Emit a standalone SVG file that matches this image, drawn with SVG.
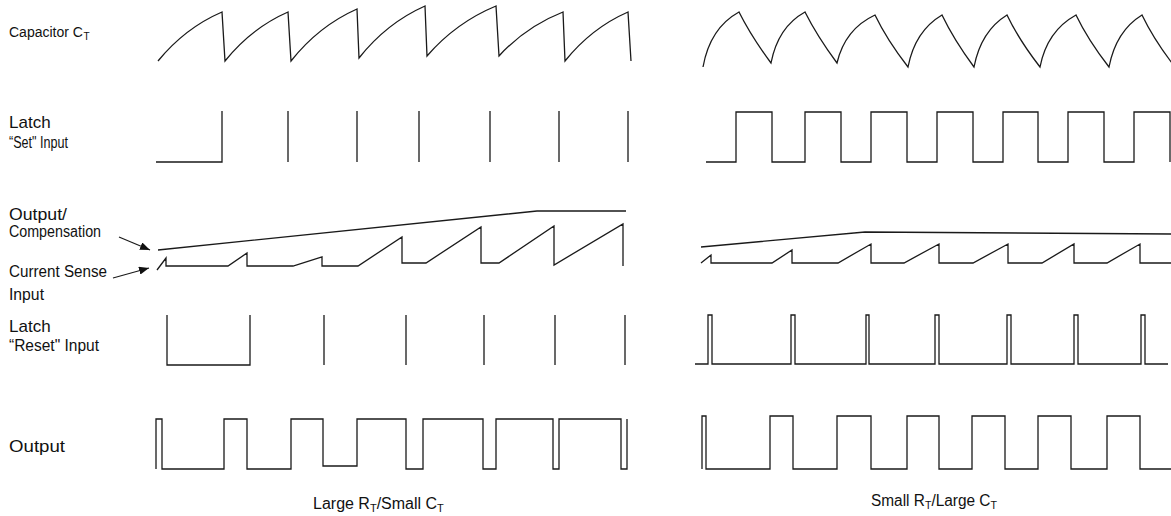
<svg xmlns="http://www.w3.org/2000/svg" width="1171" height="516" viewBox="0 0 1171 516">
<style>
.w{fill:none;stroke:#1a1a1a;stroke-width:1.3;stroke-linejoin:miter}
.a{fill:none;stroke:#1a1a1a;stroke-width:1.2}
text{font-family:"Liberation Sans",Arial,sans-serif;fill:#111}
.l1{font-size:17px}
.l2{font-size:16px}
.sub{font-size:11px}
.cap{font-size:16px}
</style>
<defs>
<marker id="ah" viewBox="0 0 10 8" refX="10" refY="4" markerWidth="10" markerHeight="8" markerUnits="userSpaceOnUse" orient="auto">
<path d="M0,0 L10,4 L0,8 Z" fill="#111"/>
</marker>
</defs>
<rect width="1171" height="516" fill="#fff"/>

<g id="labels">
<text x="9" y="37" font-size="14">Capacitor C<tspan font-size="10" dx="0.5" dy="3">T</tspan></text>
<text class="l1" x="9" y="128">Latch</text>
<text class="l2" x="9" y="148" textLength="59" lengthAdjust="spacingAndGlyphs">“Set" Input</text>
<text class="l1" x="9" y="220" textLength="58" lengthAdjust="spacingAndGlyphs">Output/</text>
<text class="l2" x="9" y="237" textLength="92" lengthAdjust="spacingAndGlyphs">Compensation</text>
<text class="l2" x="9" y="277" textLength="98" lengthAdjust="spacingAndGlyphs">Current Sense</text>
<text class="l1" x="9" y="300" textLength="35" lengthAdjust="spacingAndGlyphs">Input</text>
<text class="l1" x="9" y="332">Latch</text>
<text class="l2" x="9" y="351" textLength="90" lengthAdjust="spacingAndGlyphs">“Reset" Input</text>
<text class="l1" x="9" y="452" textLength="56" lengthAdjust="spacingAndGlyphs">Output</text>
<text class="cap" x="313" y="509">Large R<tspan class="sub" dy="3">T</tspan><tspan dy="-3">/Small C</tspan><tspan class="sub" dy="3">T</tspan></text>
<text class="cap" x="871" y="506" textLength="126" lengthAdjust="spacingAndGlyphs">Small R<tspan class="sub" dy="3">T</tspan><tspan dy="-3">/Large C</tspan><tspan class="sub" dy="3">T</tspan></text>
</g>

<g id="capacitor-left">
<path class="w" d="M158,61 Q185,28 222,12 L225,61 Q251.5,28 288,12 L291,61 Q318.7,26 357,9 L359,58 Q386.7,23 425,6 L427,56 Q456,22.5 496,6 L499,56 Q526,26.5 563,12 L565,61 Q591.5,28 628,12 L631,61"/>
</g>
<g id="capacitor-right">
<path class="w" d="M703,67 Q710,28 739,12 Q751,36 771,63 Q778,27 805,12 Q817,36 837,63 Q845,29 875,15 Q887,40 908,67 Q915,31 942,15 Q954,40 974,67 Q981,31 1007,15 Q1019,40 1040,67 Q1047,31 1076,15 Q1088,40 1109,67 Q1116,31 1142,15 Q1154,40 1175,67"/>
</g>

<g id="set-left">
<path class="w" d="M156,162 H222 V111 M288,111 V162 M357,111 V162 M419,111 V162 M490,111 V162 M559,111 V162 M628,111 V162"/>
</g>
<g id="set-right">
<path class="w" d="M706,162 H736 V112 H772 V162 H805 V112 H841 V162 H871 V112 H907 V162 H937 V112 H973 V162 H1003 V112 H1038 V162 H1068 V112 H1104 V162 H1134 V112 H1170 V162"/>
</g>

<g id="comp-left">
<path class="w" d="M158,250 L537,211 H626"/>
</g>
<g id="sense-left">
<path class="w" d="M157,270 L166,258 V266 H228 L247,253 V266 H293 L322,257 V266 H358 L402,237 V263 H426 L481,227 V263 H499 L554,226 V265 L623,224 V266"/>
</g>
<g id="comp-right">
<path class="w" d="M701,247 L865,232 L1171,234"/>
</g>
<g id="sense-right">
<path class="w" d="M701,263 L711,255 V263 H772 L792,250 V263 H838 L871,244 V263 H904 L939,244 V263 H973 L1008,244 V263 H1042 L1074,244 V263 H1107 L1140,244 V263 H1171"/>
</g>

<g id="reset-left">
<path class="w" d="M167,315 V365 H250 V315 M324,315 V365 M406,315 V365 M484,315 V365 M555,315 V365 M625,315 V365"/>
</g>
<g id="reset-right">
<path class="w" d="M695,364 H708 V315 H712 V364 H791 V315 H795 V364 H866 V315 H869 V364 H935 V315 H939 V364 H1007 V315 H1011 V364 H1074 V315 H1078 V364 H1141 V315 H1145 V364 H1168"/>
</g>

<g id="output-left">
<path class="w" d="M156,469 V419 H162 V469 H224 V419 H247 V469 H291 V419 H323 V466 H357 V419 H406 V469 H423 V419 H483 V469 H496 V419 H553 V469 H559 V419 H621 V469 H627 V419"/>
</g>
<g id="output-right">
<path class="w" d="M702,469 V416 H706 V469 H770 V416 H793 V469 H837 V416 H871 V469 H907 V416 H939 V469 H972 V416 H1005 V469 H1038 V416 H1071 V469 H1107 V416 H1140 V469 H1171"/>
</g>

<g id="connectors">
<line class="a" x1="119" y1="237" x2="150" y2="250" marker-end="url(#ah)"/>
<line class="a" x1="113" y1="278" x2="149" y2="268" marker-end="url(#ah)"/>
</g>
</svg>
